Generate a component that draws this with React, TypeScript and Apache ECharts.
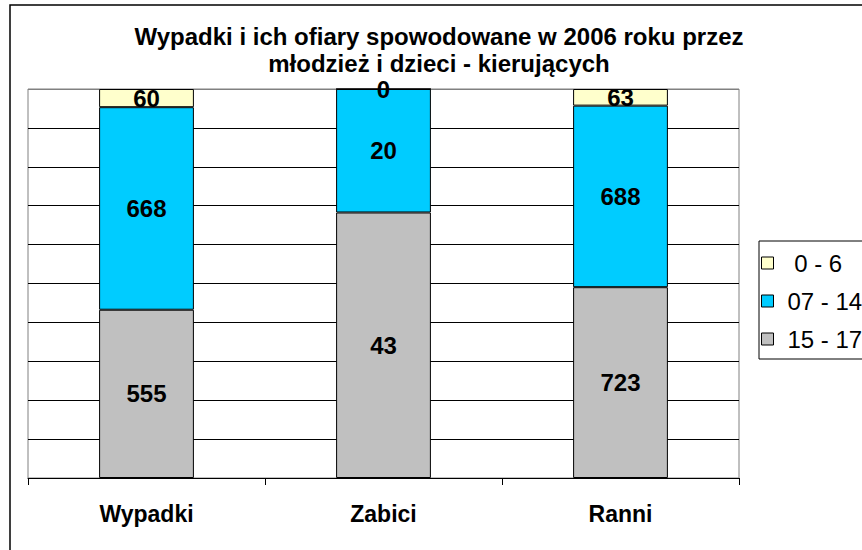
import React, { useEffect, useRef } from "react";
import * as echarts from "echarts";

const categories = ["Wypadki", "Zabici", "Ranni"];
const seriesNames = ["15 - 17", "07 - 14", "0 - 6"];
const age15to17 = [555, 43, 723];
const age7to14 = [668, 20, 688];
const age0to6 = [60, 0, 63];
const colors = ["#C0C0C0", "#00CCFF", "#FFFFCC"];
const yTicks = [0, 10, 20, 30, 40, 50, 60, 70, 80, 90, 100];

export default function App() {
  const ref = useRef<HTMLDivElement>(null);
  useEffect(() => {
    if (!ref.current) return;
    const chart = echarts.init(ref.current, null, { renderer: "svg" });
    const raw = [age15to17, age7to14, age0to6];
    const totals = categories.map((_, i) => raw.reduce((s, arr) => s + arr[i], 0));
    const font = "'Liberation Sans', Arial, sans-serif";
    const series = raw.map((arr, si) => ({
      name: seriesNames[si],
      type: "bar",
      stack: "total",
      barCategoryGap: "60%",
      data: arr.map((v, i) => (v / totals[i]) * 100),
      itemStyle: { color: colors[si], borderColor: "#000", borderWidth: 1 },
      label: {
        show: true,
        position: "inside",
        formatter: (p: any) => String(arr[p.dataIndex]),
        fontFamily: font,
        fontWeight: "bold",
        fontSize: 24,
        lineHeight: 20,
        color: "#000",
      },
    }));
    chart.setOption({
      animation: false,
      textStyle: { fontFamily: font },
      title: {
        text: "Wypadki i ich ofiary spowodowane w 2006 roku przez\nmłodzież i dzieci - kierujących",
        left: 439,
        top: 23,
        textAlign: "center",
        padding: 0,
        textStyle: { fontFamily: font, fontSize: 24, fontWeight: "bold", lineHeight: 27, color: "#000" },
      },
      legend: {
        data: ["0 - 6", "07 - 14", "15 - 17"],
        orient: "vertical",
        left: 759,
        top: 241,
        padding: [10, 40, 8, 2],
        itemWidth: 12,
        itemHeight: 12,
        itemGap: 14,
        borderColor: "#000",
        borderWidth: 1,
        icon: "rect",
        itemStyle: { borderColor: "#000", borderWidth: 1 },
        formatter: (n: string) => (n === "0 - 6" ? " " + n : n),
        textStyle: { fontFamily: font, fontSize: 24, color: "#000", padding: [0, 0, 0, 9] },
      },
      grid: {
        left: 28,
        top: 89,
        right: 123,
        bottom: 72,
        show: true,
        borderColor: "#808080",
        borderWidth: 1,
        backgroundColor: "#fff",
      },
      xAxis: {
        type: "category",
        data: categories,
        axisLine: { lineStyle: { color: "#000", width: 1 } },
        axisTick: { show: true, length: 7, lineStyle: { color: "#000" } },
        axisLabel: { margin: 24, fontFamily: font, fontSize: 23, fontWeight: "bold", color: "#000" },
      },
      yAxis: {
        type: "value",
        min: 0,
        max: 100,
        interval: 10,
        axisLine: { show: false },
        axisTick: { show: false },
        axisLabel: { show: false },
        splitLine: {
          lineStyle: { color: yTicks.map((t) => (t === 100 ? "#808080" : "#000")), width: 1 },
        },
      },
      graphic: [
        {
          type: "rect",
          shape: { x: 10, y: 5, width: 900, height: 600 },
          style: { fill: "none", stroke: "#000", lineWidth: 1.5 },
          z: 100,
        },
      ],
      series,
    });
    return () => chart.dispose();
  }, []);
  return (
    <div
      ref={ref}
      style={{ position: "fixed", left: 0, top: 0, width: 862, height: 550, background: "#fff" }}
    />
  );
}
